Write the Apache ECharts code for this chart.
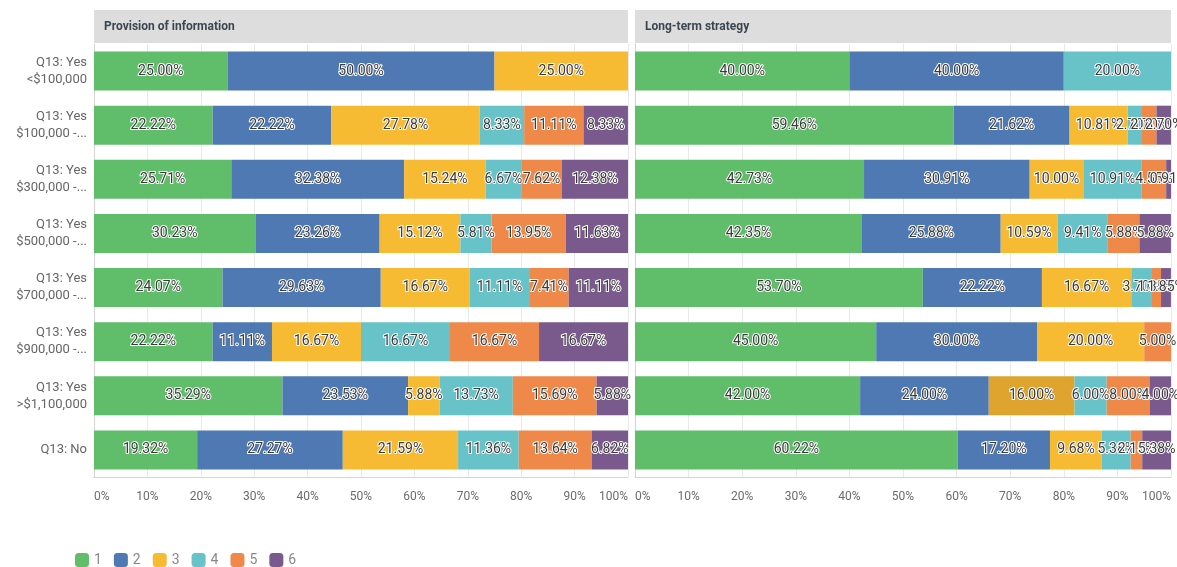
<!DOCTYPE html>
<html>
<head>
<meta charset="utf-8">
<script src="https://cdn.jsdelivr.net/npm/echarts@6/dist/echarts.min.js"></script>
<style>
  html, body { margin: 0; padding: 0; background: #fff; }
  #chart { width: 1177px; height: 567px; }
</style>
</head>
<body>
<div id="chart"></div>
<script>
const categories = [
  'Q13: Yes\n<$100,000',
  'Q13: Yes\n$100,000 -...',
  'Q13: Yes\n$300,000 -...',
  'Q13: Yes\n$500,000 -...',
  'Q13: Yes\n$700,000 -...',
  'Q13: Yes\n$900,000 -...',
  'Q13: Yes\n>$1,100,000',
  'Q13: No'
];
const seriesNames = ['1', '2', '3', '4', '5', '6'];
const colors = ['#60be6b', '#4e79b3', '#f7bb33', '#67c3c8', '#ef894a', '#7a5a8c'];
const tickLabels = ['0%', '10%', '20%', '30%', '40%', '50%', '60%', '70%', '80%', '90%', '100%'];

// Provision of information, one array per answer (rows top to bottom)
const info1 = [25.00, 22.22, 25.71, 30.23, 24.07, 22.22, 35.29, 19.32];
const info2 = [50.00, 22.22, 32.38, 23.26, 29.63, 11.11, 23.53, 27.27];
const info3 = [25.00, 27.78, 15.24, 15.12, 16.67, 16.67, 5.88, 21.59];
const info4 = [0, 8.33, 6.67, 5.81, 11.11, 16.67, 13.73, 11.36];
const info5 = [0, 11.11, 7.62, 13.95, 7.41, 16.67, 15.69, 13.64];
const info6 = [0, 8.33, 12.38, 11.63, 11.11, 16.67, 5.88, 6.82];

// Long-term strategy
const strat1 = [40.00, 59.46, 42.73, 42.35, 53.70, 45.00, 42.00, 60.22];
const strat2 = [40.00, 21.62, 30.91, 25.88, 22.22, 30.00, 24.00, 17.20];
const strat3 = [0, 10.81, 10.00, 10.59, 16.67, 20.00, 16.00, 9.68];
const strat4 = [20.00, 2.70, 10.91, 9.41, 3.70, 0, 6.00, 5.38];
const strat5 = [0, 2.70, 4.55, 5.88, 1.85, 5.00, 8.00, 2.15];
const strat6 = [0, 2.70, 0.91, 5.88, 1.85, 0, 4.00, 5.38];

const panelTitles = ['Provision of information', 'Long-term strategy'];
const infoData = [info1, info2, info3, info4, info5, info6];
const stratData = [strat1, strat2, strat3, strat4, strat5, strat6];

const FONT = 'Roboto, "Noto Sans", sans-serif';
const chart = echarts.init(document.getElementById('chart'));

const grids = [
  { left: 94, top: 44, width: 534, height: 433 },
  { left: 635, top: 44, width: 536, height: 433 }
];

function makeXAxis(i) {
  return {
    type: 'value', gridIndex: i, min: 0, max: 100, interval: 10,
    axisLine: { show: true, lineStyle: { color: '#d4d4d4' } },
    axisTick: { show: false },
    splitLine: { show: true, lineStyle: { color: '#e9e9e9' } },
    axisLabel: {
      color: '#6b6b6b', fontSize: 12, fontFamily: FONT, margin: 14,
      alignMinLabel: 'left', alignMaxLabel: 'right',
      formatter: v => tickLabels[Math.round(v / 10)]
    }
  };
}

function makeYAxis(i) {
  return {
    type: 'category', gridIndex: i, data: categories, inverse: true,
    axisLine: { show: true, lineStyle: { color: '#d4d4d4' } },
    axisTick: { show: false },
    axisLabel: {
      show: i === 0, color: '#666', fontSize: 13, fontFamily: FONT,
      lineHeight: 17, margin: 7, align: 'right'
    }
  };
}

function makeSeries(data, gridIdx) {
  return data.map((vals, k) => ({
    name: seriesNames[k],
    type: 'bar',
    stack: 'panel' + gridIdx,
    xAxisIndex: gridIdx,
    yAxisIndex: gridIdx,
    barWidth: 39,
    itemStyle: { color: colors[k] },
    label: {
      show: true, position: 'inside', fontFamily: FONT, fontSize: 14,
      color: '#3a3a3a', textBorderColor: '#fff', textBorderWidth: 2,
      formatter: p => (p.value > 0 ? p.value.toFixed(2) + '%' : '')
    },
    // hovered segment in the reference (row 7, answer 3, right panel)
    data: vals.map((v, r) => (gridIdx === 1 && k === 2 && r === 6)
      ? { value: v, itemStyle: { color: '#dfa42d' } } : v)
  }));
}

const graphics = [];
grids.forEach((g, i) => {
  graphics.push({
    type: 'rect', left: g.left, top: 10, silent: true,
    shape: { width: g.width, height: 33 },
    style: { fill: '#dddddd' }
  });
  graphics.push({
    type: 'text', left: g.left + 10, top: 21, silent: true,
    style: {
      text: panelTitles[i], fill: '#3b4650',
      font: 'bold 12px ' + FONT
    }
  });
});

chart.setOption({
  animation: false,
  grid: grids,
  xAxis: [makeXAxis(0), makeXAxis(1)],
  yAxis: [makeYAxis(0), makeYAxis(1)],
  legend: {
    data: seriesNames, left: 75, top: 553, padding: 0,
    itemWidth: 14, itemHeight: 14, itemGap: 12,
    icon: 'roundRect',
    textStyle: { color: '#888', fontSize: 14, fontFamily: FONT }
  },
  graphic: graphics,
  series: makeSeries(infoData, 0).concat(makeSeries(stratData, 1))
});
</script>
</body>
</html>
